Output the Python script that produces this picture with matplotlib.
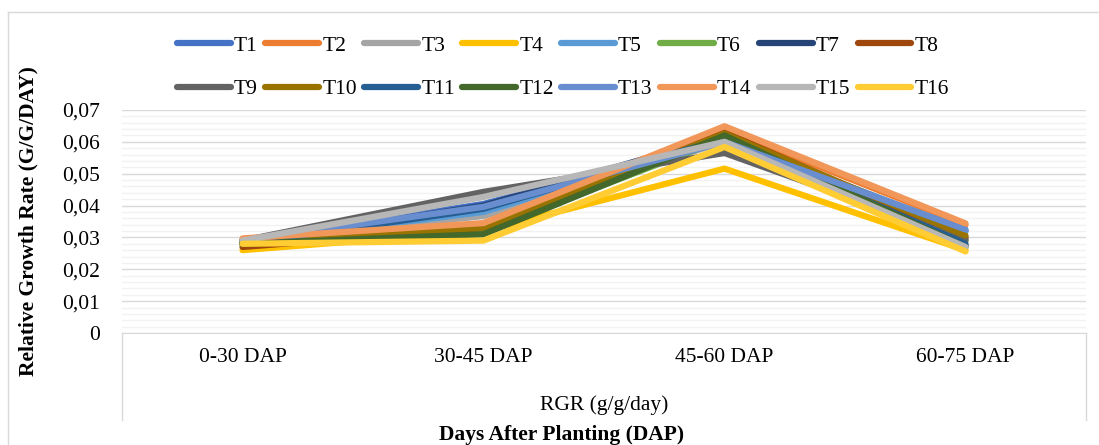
import matplotlib
matplotlib.use("Agg")
import matplotlib.pyplot as plt
from matplotlib.lines import Line2D
from matplotlib.ticker import FuncFormatter, MultipleLocator

plt.rcParams['font.family'] = ['Liberation Serif', 'DejaVu Serif']

# data
categories = ["0-30 DAP", "30-45 DAP", "45-60 DAP", "60-75 DAP"]
labels = ["T%d" % i for i in range(1, 17)]
rgr = {
    "T1":  [0.0290, 0.0405, 0.0610, 0.0320],
    "T2":  [0.0285, 0.0340, 0.0640, 0.0340],
    "T3":  [0.0290, 0.0367, 0.0600, 0.0290],
    "T4":  [0.0260, 0.0320, 0.0516, 0.0260],
    "T5":  [0.0285, 0.0380, 0.0610, 0.0320],
    "T6":  [0.0280, 0.0320, 0.0610, 0.0290],
    "T7":  [0.0280, 0.0400, 0.0620, 0.0275],
    "T8":  [0.0270, 0.0330, 0.0630, 0.0300],
    "T9":  [0.0290, 0.0443, 0.0565, 0.0294],
    "T10": [0.0285, 0.0330, 0.0626, 0.0306],
    "T11": [0.0280, 0.0390, 0.0610, 0.0280],
    "T12": [0.0280, 0.0310, 0.0620, 0.0270],
    "T13": [0.0290, 0.0396, 0.0600, 0.0325],
    "T14": [0.0297, 0.0345, 0.0649, 0.0344],
    "T15": [0.0290, 0.0427, 0.0600, 0.0270],
    "T16": [0.0280, 0.0290, 0.0584, 0.0256],
}
colors = ["#4472C4", "#ED7D31", "#A5A5A5", "#FFC000", "#5B9BD5", "#70AD47",
          "#264478", "#9E480E", "#636363", "#997300", "#255E91", "#43682B",
          "#698ED0", "#F1975A", "#B7B7B7", "#FFCD33"]

FS = 15.5
grid_c = "#d9d9d9"

fig = plt.figure(figsize=(10.99, 4.45), dpi=100)
ax = fig.add_axes([122 / 1099, 1 - 333 / 445, (1086 - 122) / 1099, (333 - 110) / 445])

x = list(range(len(categories)))
handles = []
for name, c in zip(labels, colors):
    h, = ax.plot(x, rgr[name], color=c, lw=4.5, label=name,
                 solid_capstyle="round", solid_joinstyle="round")
    handles.append(h)

ax.set_xlim(-0.5, 3.5)
ax.set_ylim(0, 0.07)
ax.yaxis.set_major_locator(MultipleLocator(0.01))
ax.yaxis.set_minor_locator(MultipleLocator(0.002))
ax.yaxis.set_major_formatter(FuncFormatter(
    lambda v, p: "0" if abs(v) < 1e-9 else ("%.2f" % v).replace(".", ",")))
ax.grid(which="major", axis="y", color=grid_c, lw=1.0)
ax.grid(which="minor", axis="y", color="#f2f2f2", lw=1.0)
ax.set_axisbelow(True)
for s in ["top", "right", "left"]:
    ax.spines[s].set_visible(False)
ax.spines["bottom"].set_color(grid_c)
ax.tick_params(axis="y", which="both", length=0, pad=16, labelsize=FS)
ax.set_xticks(x)
ax.set_xticklabels(categories)
ax.tick_params(axis="x", length=0, pad=11, labelsize=FS)

# category box lines
for xa in (0, 1):
    ax.add_line(Line2D([xa, xa], [0, -0.39], transform=ax.transAxes,
                       color=grid_c, lw=1.0, clip_on=False))
ax.text(0.5, -0.323, "RGR (g/g/day)", transform=ax.transAxes,
        ha="center", va="center", fontsize=FS)

fig.text(562 / 1099, 1 - 435 / 445, "Days After Planting (DAP)",
         ha="center", va="center", fontsize=FS, fontweight="bold")
fig.text(28 / 1099, 1 - 221 / 445, "Relative Growth Rate (G/G/DAY)",
         ha="center", va="center", rotation=90, fontsize=FS, fontweight="bold")

# chart border
fig.add_artist(Line2D([8 / 1099, 8 / 1099], [0, 1 - 12 / 445], color=grid_c, lw=1.0))
fig.add_artist(Line2D([8 / 1099, 1], [1 - 12 / 445, 1 - 12 / 445], color=grid_c, lw=1.0))

# legend filled row by row (2 rows x 8)
order = [i + r * 8 for i in range(8) for r in range(2)]
fig.legend([handles[i] for i in order], [labels[i] for i in order],
           loc="center", bbox_to_anchor=(563 / 1099, 1 - 67.5 / 445), ncol=8,
           frameon=False, fontsize=FS, handlelength=2.5, handletextpad=0.15,
           columnspacing=0.34, labelspacing=1.1, borderpad=0)

fig.savefig("out.png", dpi=100)
